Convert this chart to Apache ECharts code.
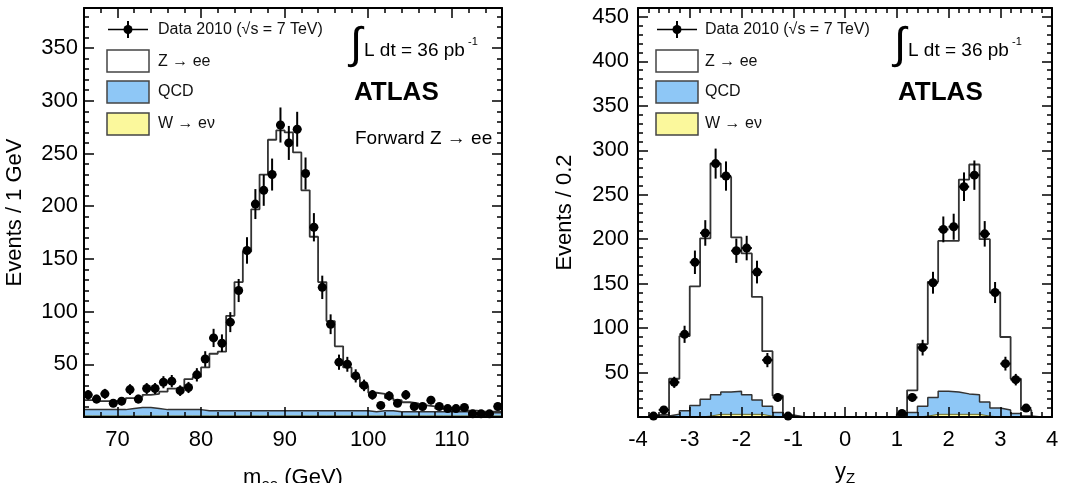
<!DOCTYPE html>
<html>
<head>
<meta charset="utf-8">
<script src="https://cdn.jsdelivr.net/npm/echarts@6/dist/echarts.min.js"></script>
<style>
  html, body { margin: 0; padding: 0; background: #fff; }
  #main { width: 1081px; height: 483px; }
</style>
</head>
<body>
<div id="main"></div>
<script>
// ---- left panel: m_ee, 1 GeV bins (lower edges) ----
const massBinLow = [66, 67, 68, 69, 70, 71, 72, 73, 74, 75, 76, 77, 78, 79, 80, 81, 82, 83, 84, 85,
  86, 87, 88, 89, 90, 91, 92, 93, 94, 95, 96, 97, 98, 99, 100, 101, 102, 103, 104, 105,
  106, 107, 108, 109, 110, 111, 112, 113, 114, 115]
const massData = [21, 17, 22, 13, 15, 26, 17, 27, 27, 33, 34, 25, 28, 40, 55, 75, 70, 90, 120, 158,
  202, 215, 230, 277, 260, 273, 231, 180, 123, 88, 52, 50, 39, 30, 21, 11, 20, 13, 21, 10,
  10, 16, 10, 8, 8, 9, 3, 3, 3, 10]
// stacked tops: total MC (Z->ee + QCD + W), QCD + W, W
const massMC = [16, 15, 15, 15, 16, 18, 19, 21, 22, 24, 27, 28, 36, 38, 47, 60, 62, 96, 128, 157,
  197, 230, 263, 272, 270, 251, 215, 171, 128, 91, 67, 47, 38, 29, 23, 22, 18, 16, 14, 13,
  11, 10, 8, 8, 7, 6, 6, 5, 5, 5]
const massQCD = [7, 7, 7, 7, 7, 8, 9, 9, 8, 7, 7, 7, 7, 7, 6, 6, 6, 6, 6, 6,
  6, 6, 6, 6, 6, 6, 6, 6, 6, 6, 6, 6, 6, 6, 5, 6, 6, 5, 5, 5,
  5, 5, 5, 5, 5, 5, 4, 4, 4, 4]
const massW = [1, 1, 1, 1, 1, 1, 1, 1, 1, 1, 1, 1, 1, 1, 1, 1, 1, 1, 1, 1,
  1, 1, 1, 1, 1, 1, 1, 1, 1, 1, 1, 1, 1, 1, 1, 1, 1, 1, 1, 1,
  1, 1, 1, 1, 1, 1, 1, 1, 1, 1]
const massTicks = [70, 80, 90, 100, 110]
const massMinorTicks = [68, 72, 74, 76, 78, 82, 84, 86, 88, 92, 94, 96, 98, 102, 104, 106, 108, 112, 114]

// ---- right panel: y_Z, 0.2 bins (lower edges) ----
const yzBinLow = [-4, -3.8, -3.6, -3.4, -3.2, -3, -2.8, -2.6, -2.4, -2.2, -2, -1.8, -1.6, -1.4, -1.2,
  -1, -0.8, -0.6, -0.4, -0.2, 0, 0.2, 0.4, 0.6, 0.8,
  1, 1.2, 1.4, 1.6, 1.8, 2, 2.2, 2.4, 2.6, 2.8, 3, 3.2, 3.4, 3.6, 3.8]
const yzData = [null, 1, 8, 39, 93, 174, 207, 285, 271, 187, 190, 163, 64, 22, 1,
  null, null, null, null, null, null, null, null, null, null,
  4, 22, 78, 151, 211, 214, 259, 272, 206, 140, 60, 42, 10, null, null]
const yzMC = [0, 2, 3, 43, 91, 147, 201, 285, 270, 202, 184, 135, 74, 24, 2,
  0, 0, 0, 0, 0, 0, 0, 0, 0, 0,
  3, 30, 82, 152, 198, 198, 267, 284, 200, 140, 90, 43, 8, 0, 0]
const yzQCD = [0, 1, 1, 3, 7, 13, 20, 25, 28, 29, 25, 19, 12, 5, 1,
  0, 0, 0, 0, 0, 0, 0, 0, 0, 0,
  2, 5, 12, 22, 29, 28, 26, 25, 17, 10, 8, 4, 1, 0, 0]
const yzW = [0, 0, 0, 0, 0, 0, 1, 3, 3, 3, 3, 3, 1, 0, 0,
  0, 0, 0, 0, 0, 0, 0, 0, 0, 0,
  0, 0, 1, 3, 3, 3, 3, 3, 1, 0, 0, 0, 0, 0, 0]

const FONT = 'Liberation Sans'
const QCD_COLOR = '#8ec7f6'
const W_COLOR = '#fbf89c'

const chart = echarts.init(document.getElementById('main'))

// histogram as a stepped line (value held until the next edge)
function histSeries(low, vals, width, xi, yi, fill, stroke, lw, z) {
  const data = low.map((x, i) => [x, vals[i]])
  data.push([low[low.length - 1] + width, vals[vals.length - 1]])
  return {
    type: 'line', step: 'end', data: data, xAxisIndex: xi, yAxisIndex: yi,
    symbol: 'none', silent: true, z: z,
    lineStyle: { color: stroke, width: lw },
    areaStyle: { color: fill, opacity: 1 }
  }
}

function dataSeries(low, vals, width, xi, yi) {
  const pts = []
  low.forEach((x, i) => {
    if (vals[i] != null) pts.push([x + width / 2, vals[i], width / 2])
  })
  return {
    type: 'custom', data: pts, xAxisIndex: xi, yAxisIndex: yi, z: 6, silent: true,
    renderItem: (params, api) => {
      const x = api.value(0), y = api.value(1), hw = api.value(2)
      const err = Math.sqrt(y)
      const c = api.coord([x, y])
      const top = api.coord([x, y + err])
      const bot = api.coord([x, Math.max(y - err, 0)])
      const l = api.coord([x - hw, y])
      const r = api.coord([x + hw, y])
      return {
        type: 'group',
        children: [
          { type: 'line', shape: { x1: c[0], y1: top[1], x2: c[0], y2: bot[1] }, style: { stroke: '#000', lineWidth: 2 } },
          { type: 'line', shape: { x1: l[0], y1: c[1], x2: r[0], y2: c[1] }, style: { stroke: '#000', lineWidth: 2 } },
          { type: 'circle', shape: { cx: c[0], cy: c[1], r: 4.5 }, style: { fill: '#000' } }
        ]
      }
    }
  }
}

const frameLine = { show: true, onZero: false, lineStyle: { color: '#000', width: 2 } }
const noLine = { show: false, onZero: false }
const tickStyle = { color: '#000', width: 1.5 }
const subRich = { sub: { fontSize: 15, padding: [14, 0, 0, 0], fontFamily: FONT, color: '#000' } }

function massX(position, major, withLabel) {
  const ax = {
    gridIndex: 0, type: 'value', position: position, min: 66, max: 116, z: 5,
    axisLine: major ? frameLine : noLine,
    splitLine: { show: false },
    axisTick: { inside: true, length: major ? 10 : 5, customValues: major ? massTicks : massMinorTicks, lineStyle: tickStyle },
    axisLabel: withLabel
      ? { customValues: massTicks, fontSize: 22, color: '#000', margin: 12, fontFamily: FONT }
      : { show: false }
  }
  if (withLabel) {
    ax.name = 'm{sub|ee} (GeV)'
    ax.nameLocation = 'middle'
    ax.nameGap = 46
    ax.nameMoveOverlap = false
    ax.nameTextStyle = { fontSize: 22, color: '#000', fontFamily: FONT, rich: subRich }
  }
  return ax
}

function yzX(position, withLabel) {
  const ax = {
    gridIndex: 1, type: 'value', position: position, min: -4, max: 4, interval: 1, z: 5,
    axisLine: frameLine, splitLine: { show: false },
    axisTick: { inside: true, length: 10, lineStyle: tickStyle },
    minorTick: { show: true, splitNumber: 5, length: 5, lineStyle: tickStyle },
    axisLabel: withLabel
      ? { fontSize: 22, color: '#000', margin: 12, fontFamily: FONT }
      : { show: false }
  }
  if (withLabel) {
    ax.name = 'y{sub|Z}'
    ax.nameLocation = 'middle'
    ax.nameGap = 40
    ax.nameMoveOverlap = false
    ax.nameTextStyle = { fontSize: 22, color: '#000', fontFamily: FONT, rich: subRich }
  }
  return ax
}

function countY(grid, position, max, name, gap, margin) {
  const ax = {
    gridIndex: grid, type: 'value', position: position, min: 0, max: max, interval: 50, z: 5,
    axisLine: frameLine, splitLine: { show: false },
    axisTick: { inside: true, length: 10, lineStyle: tickStyle },
    minorTick: { show: true, splitNumber: 5, length: 5, lineStyle: tickStyle },
    axisLabel: name
      ? {
          fontSize: 22, color: '#000', margin: margin, fontFamily: FONT,
          formatter: (v) => (v === 0 || v % 50 !== 0) ? '' : String(v)
        }
      : { show: false }
  }
  if (name) {
    ax.name = name
    ax.nameLocation = 'middle'
    ax.nameGap = gap
    ax.nameMoveOverlap = false
    ax.nameTextStyle = { fontSize: 22, color: '#000', fontFamily: FONT }
  }
  return ax
}

function legend(boxX, textX) {
  const txt = (t, y) => ({
    type: 'text', x: textX, y: y,
    style: { text: t, fontSize: 16, fontFamily: FONT, fill: '#111', align: 'left', verticalAlign: 'middle' }
  })
  const box = (y, fill) => ({
    type: 'rect', shape: { x: boxX, y: y, width: 42, height: 22 },
    style: { fill: fill, stroke: '#444', lineWidth: 1.5 }
  })
  const mx = boxX + 21
  return [
    { type: 'line', shape: { x1: boxX + 1, y1: 29.5, x2: boxX + 41, y2: 29.5 }, style: { stroke: '#000', lineWidth: 1.5 } },
    { type: 'line', shape: { x1: mx, y1: 21, x2: mx, y2: 38 }, style: { stroke: '#000', lineWidth: 2 } },
    { type: 'circle', shape: { cx: mx, cy: 29.5, r: 4.5 }, style: { fill: '#000' } },
    txt('Data 2010 (√s = 7 TeV)', 30),
    box(50, '#fff'), txt('Z → ee', 62),
    box(81, QCD_COLOR), txt('QCD', 92),
    box(113, W_COLOR), txt('W → eν', 124)
  ]
}

function lumi(x) {
  return [
    { type: 'text', x: x, y: 46, style: { text: '∫', fontSize: 44, fontFamily: FONT, fill: '#000', align: 'center', verticalAlign: 'middle' } },
    { type: 'text', x: x + 8, y: 51, style: { text: 'L dt = 36 pb', fontSize: 19, fontFamily: FONT, fill: '#000', align: 'left', verticalAlign: 'middle' } },
    { type: 'text', x: x + 112, y: 42, style: { text: '-1', fontSize: 11, fontFamily: FONT, fill: '#000', align: 'left', verticalAlign: 'middle' } },
    { type: 'text', x: x - 2, y: 93, style: { text: 'ATLAS', fontSize: 26, fontWeight: 'bold', fontFamily: FONT, fill: '#000', align: 'left', verticalAlign: 'middle' } }
  ]
}

const option = {
  animation: false,
  backgroundColor: '#fff',
  textStyle: { fontFamily: FONT },
  grid: [
    { left: 84, top: 8, width: 418, height: 409, containLabel: false, outerBoundsMode: 'none' },
    { left: 638, top: 8, width: 414, height: 409, containLabel: false, outerBoundsMode: 'none' }
  ],
  xAxis: [
    massX('bottom', true, true),
    massX('bottom', false, false),
    massX('top', true, false),
    massX('top', false, false),
    yzX('bottom', true),
    yzX('top', false)
  ],
  yAxis: [
    countY(0, 'left', 388, 'Events / 1 GeV', 58, 6),
    countY(0, 'right', 388, null),
    countY(1, 'left', 460, 'Events / 0.2', 62, 9),
    countY(1, 'right', 460, null)
  ],
  graphic: [].concat(
    legend(107, 158),
    lumi(356),
    [{ type: 'text', x: 355, y: 139, style: { text: 'Forward Z → ee', fontSize: 19, fontFamily: FONT, fill: '#000', align: 'left', verticalAlign: 'middle' } }],
    legend(656, 705),
    lumi(900)
  ),
  series: [
    histSeries(massBinLow, massMC, 1, 0, 0, '#fff', '#333', 1.8, 2),
    histSeries(massBinLow, massQCD, 1, 0, 0, QCD_COLOR, '#333', 1.5, 3),
    histSeries(massBinLow, massW, 1, 0, 0, W_COLOR, '#6b6b2a', 1, 4),
    dataSeries(massBinLow, massData, 1, 0, 0),
    histSeries(yzBinLow, yzMC, 0.2, 4, 2, '#fff', '#333', 1.8, 2),
    histSeries(yzBinLow, yzQCD, 0.2, 4, 2, QCD_COLOR, '#333', 1.5, 3),
    histSeries(yzBinLow, yzW, 0.2, 4, 2, W_COLOR, '#6b6b2a', 1, 4),
    dataSeries(yzBinLow, yzData, 0.2, 4, 2)
  ]
}

chart.setOption(option)
</script>
</body>
</html>
